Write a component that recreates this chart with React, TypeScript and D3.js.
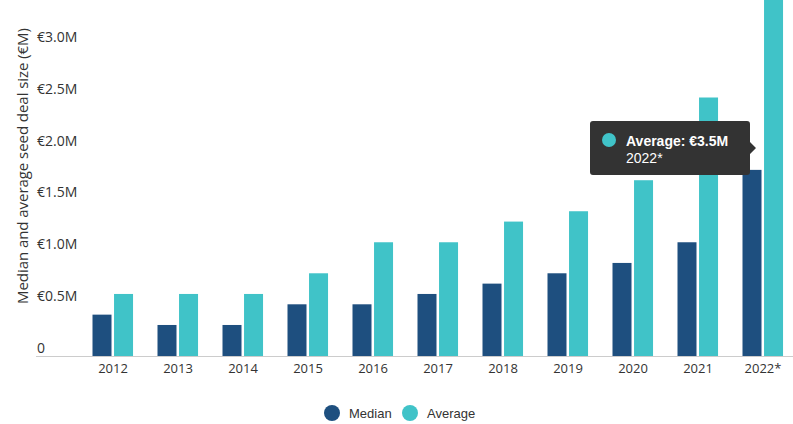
import React, { useEffect, useRef } from 'react';
import * as d3 from 'd3';

const years = ['2012', '2013', '2014', '2015', '2016', '2017', '2018', '2019', '2020', '2021', '2022*'];
const medianValues = [0.4, 0.3, 0.3, 0.5, 0.5, 0.6, 0.7, 0.8, 0.9, 1.1, 1.8];
const averageValues = [0.6, 0.6, 0.6, 0.8, 1.1, 1.1, 1.3, 1.4, 1.7, 2.5, 3.5];
const yTicks = [0, 0.5, 1.0, 1.5, 2.0, 2.5, 3.0];
const seriesNames = ['Median', 'Average'];
const seriesColors = ['#1e4f7f', '#40c3c8'];

const App: React.FC = () => {
  const ref = useRef<SVGSVGElement | null>(null);

  useEffect(() => {
    const svg = d3.select(ref.current);
    svg.selectAll('*').remove();

    const width = 793;
    const baseline = 356;
    const axisFont = '"Open Sans", sans-serif';
    const uiFont = '"Liberation Sans", Arial, sans-serif';

    const y = d3.scaleLinear().domain([0, 3.5]).range([baseline, baseline - 3.5 * 103.4]);
    const x = d3.scaleBand<string>().domain(years).range([80.5, 795.5]).paddingInner(0).paddingOuter(0);
    const inner = d3.scaleBand<string>().domain(seriesNames).range([0, 42]).paddingInner(0.05);

    const g = svg.append('g');

    // bars
    years.forEach((yr, i) => {
      const grp = g.append('g').attr('transform', `translate(${x(yr)! + x.bandwidth() / 2 - 20.5},0)`);
      [medianValues[i], averageValues[i]].forEach((v, s) => {
        grp.append('rect')
          .attr('x', inner(seriesNames[s])!)
          .attr('y', y(v))
          .attr('width', 19)
          .attr('height', baseline - y(v))
          .attr('fill', seriesColors[s]);
      });
    });

    // x axis line
    g.append('line')
      .attr('x1', 36).attr('x2', width)
      .attr('y1', baseline + 0.5).attr('y2', baseline + 0.5)
      .attr('stroke', '#cccccc').attr('stroke-width', 1);

    // x labels
    g.selectAll('.xl').data(years).enter().append('text')
      .attr('x', d => x(d)! + x.bandwidth() / 2)
      .attr('y', 373)
      .attr('text-anchor', 'middle')
      .style('font-family', axisFont)
      .style('font-size', '13px')
      .style('fill', '#333')
      .text(d => d);

    // y labels
    g.selectAll('.yl').data(yTicks).enter().append('text')
      .attr('x', 37)
      .attr('y', d => y(d) - 3.5)
      .style('font-family', axisFont)
      .style('font-size', '14px')
      .style('fill', '#333')
      .text(d => (d === 0 ? '0' : `€${d.toFixed(1)}M`));

    // y title
    g.append('text')
      .attr('transform', `translate(28,166) rotate(-90)`)
      .attr('text-anchor', 'middle')
      .attr('textLength', 276)
      .attr('lengthAdjust', 'spacing')
      .style('font-family', axisFont)
      .style('font-size', '15px')
      .style('fill', '#333')
      .text('Median and average seed deal size (€M)');

    // legend
    const legendItems = [
      { name: 'Median', cx: 332, tx: 349 },
      { name: 'Average', cx: 410, tx: 427 },
    ];
    legendItems.forEach((it, i) => {
      g.append('circle').attr('cx', it.cx).attr('cy', 413).attr('r', 8).attr('fill', seriesColors[i]);
      g.append('text')
        .attr('x', it.tx).attr('y', 418)
        .style('font-family', uiFont)
        .style('font-size', '13px')
        .style('fill', '#333')
        .text(it.name);
    });

    // tooltip
    const tip = g.append('g');
    tip.append('path')
      .attr('d', 'M593,121 H747 Q750,121 750,124 V142 L756,148 L750,154 V172 Q750,175 747,175 H593 Q590,175 590,172 V124 Q590,121 593,121 Z')
      .attr('fill', '#333333');
    tip.append('circle').attr('cx', 609).attr('cy', 140).attr('r', 7).attr('fill', seriesColors[1]);
    tip.append('text')
      .attr('x', 626).attr('y', 146)
      .style('font-family', uiFont)
      .style('font-size', '14px')
      .style('font-weight', 'bold')
      .style('fill', '#fff')
      .text(`Average: €${averageValues[10].toFixed(1)}M`);
    tip.append('text')
      .attr('x', 626).attr('y', 163)
      .style('font-family', uiFont)
      .style('font-size', '14px')
      .style('fill', '#fff')
      .text(years[10]);
  }, []);

  return (
    <svg ref={ref} width={793} height={424} style={{ position: 'absolute', left: 0, top: 0, display: 'block' }} />
  );
};

export default App;
